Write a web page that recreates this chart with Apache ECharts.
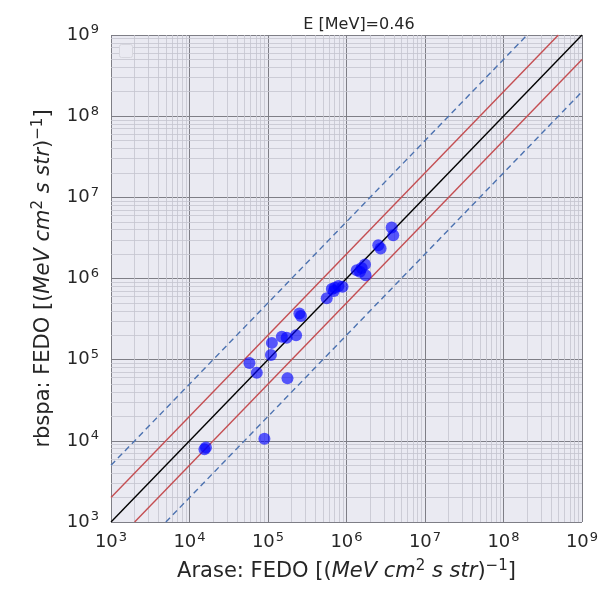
<!DOCTYPE html>
<html><head><meta charset="utf-8">
<script src="https://cdn.jsdelivr.net/npm/echarts@6/dist/echarts.min.js"></script>
<style>html,body{margin:0;padding:0;background:#fff}#c{width:615px;height:591px}</style>
</head><body><div id="c"></div>
<script>
const areseFEDO = [1.55e4,1.62e4,9.0e4,5.8e4,7.2e4,1.77e5,1.09e5,1.12e5,1.50e5,1.73e5,2.28e5,2.51e5,2.63e5,5.6e5,6.5e5,7.1e5,7.9e5,8.9e5,6.9e5,1.35e6,1.56e6,1.72e6,1.48e6,1.75e6,2.54e6,2.72e6,3.76e6,3.94e6];
const rbspaFEDO = [7.9e3,8.3e3,1.06e4,9.1e4,6.9e4,5.9e4,1.14e5,1.61e5,1.91e5,1.86e5,2.0e5,3.7e5,3.45e5,5.7e5,7.4e5,7.7e5,8.1e5,7.9e5,7.0e5,1.26e6,1.35e6,1.49e6,1.21e6,1.10e6,2.57e6,2.34e6,4.25e6,3.41e6];
const refFactorsRed = [2];
const refFactorsBlue = [5];
const axisMin = 1e3, axisMax = 1e9;
const majorTicks = [1e3,1e4,1e5,1e6,1e7,1e8,1e9];
const titleText = 'E [MeV]=0.46';

const points = areseFEDO.map((x,i)=>[x, rbspaFEDO[i]]);
const upper = f => [[axisMin, axisMin*f],[axisMax/f, axisMax]];
const lower = f => [[axisMin*f, axisMin],[axisMax, axisMax/f]];

const minorVals = [];
for (let d = 0; d < majorTicks.length-1; d++) for (let k = 2; k <= 9; k++) minorVals.push(majorTicks[d]*k);

const FONT = 'DejaVu Sans';
const C = '#262626';
const tickFmt = v => '{b|10}{s|' + Math.round(Math.log10(v)) + '}';
const tickRich = { b:{fontSize:18,fontFamily:FONT,color:C}, s:{fontSize:13,fontFamily:FONT,color:C,verticalAlign:'bottom',padding:[0,0,10,1]} };
const nameRich = {
  n:{fontSize:21,fontFamily:FONT,color:C},
  i:{fontSize:21,fontFamily:FONT,color:C,fontStyle:'italic'},
  t:{fontSize:15,fontFamily:FONT,color:C,verticalAlign:'bottom',padding:[0,0,11,0]}
};
const axisName = pre => '{n|' + pre + ': FEDO [(}{i|MeV cm}{t|2}{i| s str}{n|)}{t|−1}{n|]}';

const majorLine = {show:true, lineStyle:{color:'#7e7e86', width:1}};

const chart = echarts.init(document.getElementById('c'));
chart.setOption({
  animation:false,
  title:{text:titleText, left:354, top:12, textAlign:'center', textStyle:{fontFamily:FONT,fontSize:16,fontWeight:'normal',color:C}},
  grid:{left:111, right:33, top:35, bottom:69, show:true, backgroundColor:'#EAEAF2', borderWidth:0},
  xAxis:{type:'log', logBase:10, min:axisMin, max:axisMax,
    axisLine:{show:false}, axisTick:{show:false}, splitLine:majorLine,
    axisLabel:{formatter:tickFmt, rich:tickRich, margin:9},
    name:axisName('Arase'), nameLocation:'middle', nameGap:37, nameTextStyle:{rich:nameRich}},
  yAxis:{type:'log', logBase:10, min:axisMin, max:axisMax,
    axisLine:{show:false}, axisTick:{show:false}, splitLine:majorLine,
    axisLabel:{formatter:tickFmt, rich:tickRich, margin:12},
    name:axisName('rbspa'), nameLocation:'middle', nameGap:54, nameRotate:90, nameTextStyle:{rich:nameRich}},
  graphic:[{type:'rect', left:119, top:44, shape:{width:13, height:13, r:2}, style:{fill:'#EAEAF2', stroke:'#d6d6de', lineWidth:1}, z:10}],
  series:[
    {type:'line', data:[], silent:true, z:1,
      markLine:{silent:true, z:1, symbol:'none', label:{show:false}, animation:false,
        lineStyle:{color:'#c4c4ce', width:0.8, type:'solid'},
        data:[...minorVals.map(v=>({xAxis:v})), ...minorVals.map(v=>({yAxis:v}))]}},
    {type:'line', data:[[axisMin,axisMin],[axisMax,axisMax]], symbol:'none', lineStyle:{color:'#000', width:1.4}, z:3},
    ...refFactorsRed.flatMap(f=>[upper(f),lower(f)]).map(d=>({type:'line', data:d, symbol:'none', lineStyle:{color:'#C44E52', width:1.4}, z:3})),
    ...refFactorsBlue.flatMap(f=>[upper(f),lower(f)]).map(d=>({type:'line', data:d, symbol:'none', lineStyle:{color:'#4C72B0', width:1.4, type:[6,4]}, z:3})),
    {type:'scatter', data:points, symbolSize:12, itemStyle:{color:'rgba(0,0,255,0.8)'}, z:5}
  ]
});
</script></body></html>
